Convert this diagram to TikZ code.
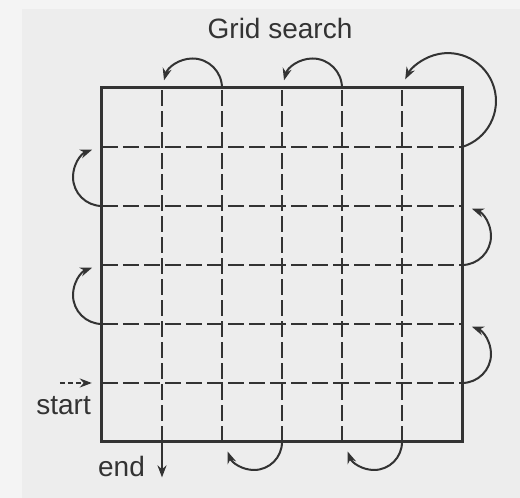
\documentclass[tikz,border=0pt]{standalone}
\usepackage{fontspec}
\setmainfont{Liberation Sans}
\usepackage{xcolor}
\definecolor{gsink}{HTML}{333333}
\definecolor{gspaper}{HTML}{EDEDED}
\definecolor{gsmargin}{HTML}{F4F4F4}
\usetikzlibrary{arrows.meta,positioning}
\tikzset{
  gsframe/.style ={draw=gsink, line width=3pt},
  gsgrid/.style  ={draw=gsink, line width=2.6pt, dash pattern=on 16pt off 5pt},
  gsturn/.style  ={-{Stealth[length=12pt,width=9pt]}, draw=gsink, line width=2pt},
  gsentry/.style ={gsturn, dash pattern=on 5pt off 3pt},
  gslbl/.style   ={font=\fontsize{28}{30}\selectfont, text=gsink, inner sep=0pt},
}

\begin{document}
\begin{tikzpicture}[x=60pt,y=59pt]
  \fill[gsmargin] (-1.7,-0.9492) rectangle (6.9667,7.4915);
  \fill[gspaper] (-1.3333,-0.9492) rectangle (6.9667,7.339);
  \useasboundingbox (-1.7,-0.9492) rectangle (6.9667,7.4915);
  % grid points
  \foreach \i in {0,...,6}{
    \foreach \j in {0,...,6}{
      \coordinate (g\i\j) at (\i,\j);
    }
  }
  \foreach \k in {1,...,5}{
    \draw[gsgrid] (g\k0) -- (g\k6);
    \draw[gsgrid] (g0\k) -- (g6\k);
  }
  \draw[gsframe] (g00) rectangle (g66);
  % turns along the rows
  \foreach \j in {1,3}{
    \draw[gsturn] (g6\j) arc[start angle=-90, end angle=70, radius=29pt];
  }
  \foreach \j in {2,4}{
    \draw[gsturn] (g0\j) arc[start angle=-90, end angle=-250, radius=29pt];
  }
  \draw[gsturn] (g65) arc[start angle=-73, end angle=153, radius=48pt];
  % turns along the columns
  \foreach \i in {2,4}{
    \draw[gsturn] (g\i6) arc[start angle=0, end angle=165, radius=29.5pt];
  }
  \foreach \i in {3,5}{
    \draw[gsturn] (g\i0) arc[start angle=0, end angle=-160, radius=28pt];
  }
  % way in and way out
  \coordinate (s0) at (-0.7,1);
  \coordinate (s1) at (-0.17,1);
  \coordinate (e1) at (1,-0.6);
  \draw[gsentry] (s0) -- (s1);
  \draw[gsturn] (g10) -- (e1);
  \node[gslbl, anchor=base] (title) at (2.967,6.847) {Grid search};
  \node[gslbl, anchor=base] (start) at (-0.64,0.458) {start};
  \node[gslbl, anchor=base] (end) at (0.325,-0.593) {end};
\end{tikzpicture}
\end{document}
